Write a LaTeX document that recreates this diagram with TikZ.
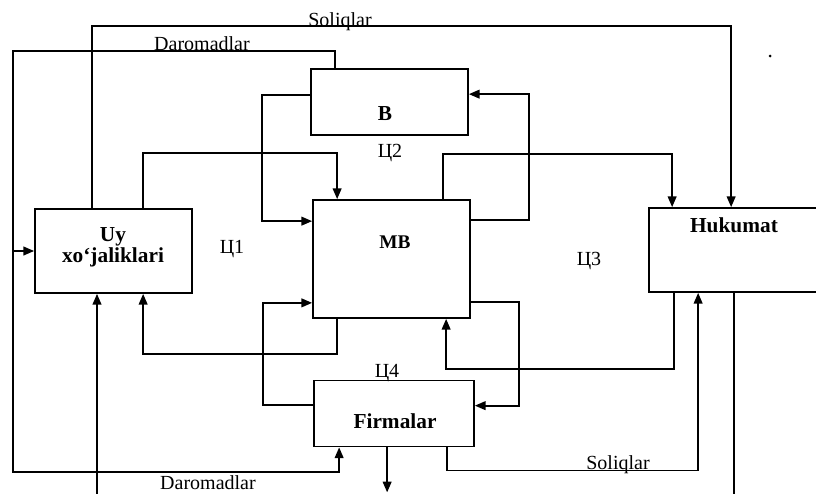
\documentclass[tikz,border=0pt]{standalone}
\usepackage{fontspec}
\setmainfont{Liberation Serif}
\usetikzlibrary{arrows.meta,calc}
\begin{document}
\begin{tikzpicture}[x=0.75pt,y=-0.75pt,
  line width=1.3pt,
  boxnode/.style={draw,line width=1.3pt,inner sep=0pt,rectangle},
  arr/.style={-{Triangle[length=8pt,width=6.5pt]}},
  lbl/.style={inner sep=0pt,font=\fontsize{15}{17}\selectfont},
  blbl/.style={inner sep=0pt,font=\fontsize{16}{16}\selectfont\bfseries,align=center}]
\path[use as bounding box,clip] (0,0) rectangle (816,493);
% boxes
\node[boxnode,minimum width=117.75pt,minimum height=49.5pt] (B) at (389.5,102) {};
\node[boxnode,minimum width=117.75pt,minimum height=88.5pt] (MB) at (391.5,259) {};
\node[boxnode,minimum width=117.75pt,minimum height=63pt] (Uy) at (113.5,251) {};
\node[boxnode,minimum width=135.75pt,minimum height=63pt] (Hukumat) at (739.5,250) {};
\node[boxnode,minimum width=120pt,minimum height=49.5pt] (Firmalar) at (394,413.5) {};
% box texts
\node[blbl,anchor=base] (tB) at (385,120) {B};
\node[blbl,anchor=base,font=\fontsize{14.5}{14.5}\selectfont\bfseries] (tMB) at (395,248) {MB};
\node[blbl] (tUy) at (113,247.5) {Uy\\xo‘jaliklari};
\node[blbl,anchor=base] (tH) at (734,232) {Hukumat};
\node[blbl,anchor=base] (tF) at (395,428) {Firmalar};
% circuit labels
\node[lbl,anchor=base] (c1) at (232,253) {Ц1};
\node[lbl,anchor=base] (c2) at (390,157) {Ц2};
\node[lbl,anchor=base] (c3) at (589,265) {Ц3};
\node[lbl,anchor=base] (c4) at (387,377) {Ц4};
% flow labels
\node[lbl,anchor=base] (sol1) at (340,26) {Soliqlar};
\node[lbl,anchor=base] (dar1) at (202,50) {Daromadlar};
\node[lbl,anchor=base] (dar2) at (208,489) {Daromadlar};
\node[lbl,anchor=base] (sol2) at (618,469) {Soliqlar};
% helper coordinates
\coordinate (dl) at (13,472);
\coordinate (b1) at (97,510);
% connectors
\draw[arr] ($(Uy.north west)+(58,0)$) -- ++(0,-182) -| ($(Hukumat.north west)+(83,0)$);
\draw[arr] ($(B.north west)+(25,0)$) -- ++(0,-17) -| (dl) -| ($(Firmalar.south west)+(26,0)$);
\draw[arr] (dl |- Uy.west) -- (Uy.west);
\draw[arr] (b1) -- (b1 |- Uy.south);
\draw[arr] ($(Uy.north west)+(109,0)$) -- ++(0,-55) -| ($(MB.north west)+(25,0)$);
\draw[arr] ($(B.north west)+(0,27)$) -- ++(-48,0) |- ($(MB.north west)+(0,22)$);
\draw[arr] ($(MB.north west)+(131,0)$) -- ++(0,-45) -| ($(Hukumat.north west)+(24,0)$);
\draw[arr] ($(MB.north east)+(0,21)$) -- ++(58,0) |- ($(B.north east)+(0,26)$);
\draw[arr] ($(MB.south west)+(25,0)$) -- ++(0,35) -| ($(Uy.south west)+(109,0)$);
\draw[arr] ($(Firmalar.north west)+(0,25)$) -- ++(-50,0) |- ($(MB.south west)+(0,-16)$);
\draw[arr] ($(MB.south east)+(0,-17)$) -- ++(48,0) |- ($(Firmalar.north east)+(0,26)$);
\draw[arr] ($(Hukumat.south west)+(26,0)$) -- ++(0,76) -| ($(MB.south west)+(134,0)$);
\draw[arr] ($(Firmalar.south west)+(134,0)$) -- ++(0,23) -| ($(Hukumat.south west)+(50,0)$);
\draw ($(Hukumat.south west)+(86,0)$) -- ++(0,220);
\draw[arr] ($(Firmalar.south west)+(74,0)$) -- ++(0,45);
% stray dot
\fill (770,56) circle (1.5);
\end{tikzpicture}
\end{document}
